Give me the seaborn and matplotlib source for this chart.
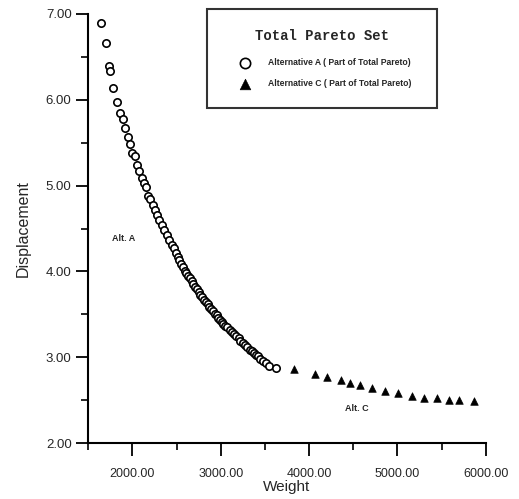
import numpy as np
import pandas as pd
import seaborn as sns
import matplotlib.pyplot as plt
from matplotlib.ticker import MultipleLocator, FormatStrFormatter

# Alternative A (circles)
peso_a = [1643, 1700, 1734, 1752, 1786, 1824, 1862, 1888, 1914, 1948, 1978, 1997, 2028,
          2050, 2073, 2107, 2129, 2155, 2174, 2201, 2234, 2257, 2283, 2306, 2336, 2362,
          2389, 2415, 2446, 2468, 2489, 2512, 2530, 2551, 2568, 2592, 2609, 2631, 2648,
          2672, 2690, 2711, 2728, 2752, 2769, 2791, 2812, 2828, 2851, 2869, 2892, 2908,
          2931, 2952, 2968, 2991, 3011, 3028, 3052, 3074, 3101, 3123, 3152, 3171, 3201,
          3222, 3248, 3276, 3299, 3327, 3349, 3376, 3398, 3427, 3449, 3478, 3511, 3549, 3621]
desloc_a = [6.90, 6.66, 6.39, 6.34, 6.14, 5.98, 5.85, 5.78, 5.67, 5.57, 5.48, 5.38, 5.35,
            5.24, 5.17, 5.09, 5.03, 4.98, 4.88, 4.84, 4.77, 4.72, 4.66, 4.60, 4.54, 4.48,
            4.42, 4.37, 4.31, 4.27, 4.22, 4.17, 4.13, 4.09, 4.05, 4.01, 3.98, 3.95, 3.92,
            3.89, 3.85, 3.82, 3.79, 3.76, 3.73, 3.70, 3.67, 3.64, 3.62, 3.59, 3.56, 3.54,
            3.51, 3.49, 3.46, 3.44, 3.41, 3.39, 3.37, 3.35, 3.32, 3.29, 3.27, 3.25, 3.22,
            3.19, 3.17, 3.14, 3.12, 3.09, 3.07, 3.05, 3.03, 3.01, 2.98, 2.96, 2.93, 2.90, 2.87]

# Alternative C (triangulos)
peso_c = [3828, 4068, 4208, 4359, 4460, 4573, 4709, 4864, 5006, 5161, 5305, 5451, 5579, 5696, 5862]
desloc_c = [2.86, 2.80, 2.77, 2.74, 2.70, 2.68, 2.64, 2.61, 2.58, 2.55, 2.53, 2.52, 2.50, 2.50, 2.49]

df_a = pd.DataFrame({'Weight': peso_a, 'Displacement': desloc_a})
df_c = pd.DataFrame({'Weight': peso_c, 'Displacement': desloc_c})

sns.set_style('ticks')
plt.rcParams['font.family'] = ['Liberation Sans', 'DejaVu Sans']

fig = plt.figure(figsize=(5.19, 4.99), dpi=100)
ax = fig.add_axes([0.170, 0.112, 0.766, 0.860])

sns.scatterplot(data=df_a, x='Weight', y='Displacement', ax=ax, marker='o',
                facecolor='white', edgecolor='black', linewidth=1.2, s=28,
                label='Alternative A ( Part of Total Pareto)')
sns.scatterplot(data=df_c, x='Weight', y='Displacement', ax=ax, marker='^',
                color='black', edgecolor='black', s=30,
                label='Alternative C ( Part of Total Pareto)')

ax.set_xlim(1500, 6000)
ax.set_ylim(2.0, 7.0)
ax.xaxis.set_major_locator(MultipleLocator(1000))
ax.xaxis.set_minor_locator(MultipleLocator(500))
ax.yaxis.set_major_locator(MultipleLocator(1.0))
ax.yaxis.set_minor_locator(MultipleLocator(0.5))
ax.xaxis.set_major_formatter(FormatStrFormatter('%.2f'))
ax.yaxis.set_major_formatter(FormatStrFormatter('%.2f'))
ax.set_xticks([2000, 3000, 4000, 5000, 6000])
ax.tick_params(which='major', direction='out', length=9, width=1.3, labelsize=9, color='black')
ax.tick_params(which='minor', direction='out', length=5, width=1.2, color='black')
ax.tick_params(axis='x', which='both', pad=9)
ax.tick_params(axis='y', which='major', labelsize=9.5, pad=3)
for lado in ['left', 'bottom']:
    ax.spines[lado].set_linewidth(1.5)
    ax.spines[lado].set_color('black')
sns.despine(ax=ax)

ax.set_xlabel('Weight', fontsize=11, labelpad=0)
ax.set_ylabel('Displacement', fontsize=11.5, labelpad=11)

ax.text(1900, 4.38, 'Alt. A', fontsize=6.5, fontweight='bold', ha='center', va='center')
ax.text(4540, 2.40, 'Alt. C', fontsize=6.5, fontweight='bold', ha='center', va='center')

leg = ax.legend(loc='upper left', bbox_to_anchor=(0.299, 1.012, 0.578, 0.0), mode='expand',
                title='Total Pareto Set', fontsize=6.2, frameon=True, fancybox=False,
                borderpad=2.3, labelspacing=1.4, handlelength=4.2, handletextpad=0.6,
                markerscale=1.4, borderaxespad=0)
leg.get_title().set_fontfamily('Liberation Mono')
leg.get_title().set_fontweight('bold')
leg.get_title().set_fontsize(10)
leg._legend_box.sep = 11
leg.get_frame().set_edgecolor('black')
leg.get_frame().set_linewidth(1.5)
for txt in leg.get_texts():
    txt.set_fontweight('bold')

plt.savefig('out.png', dpi=100)
